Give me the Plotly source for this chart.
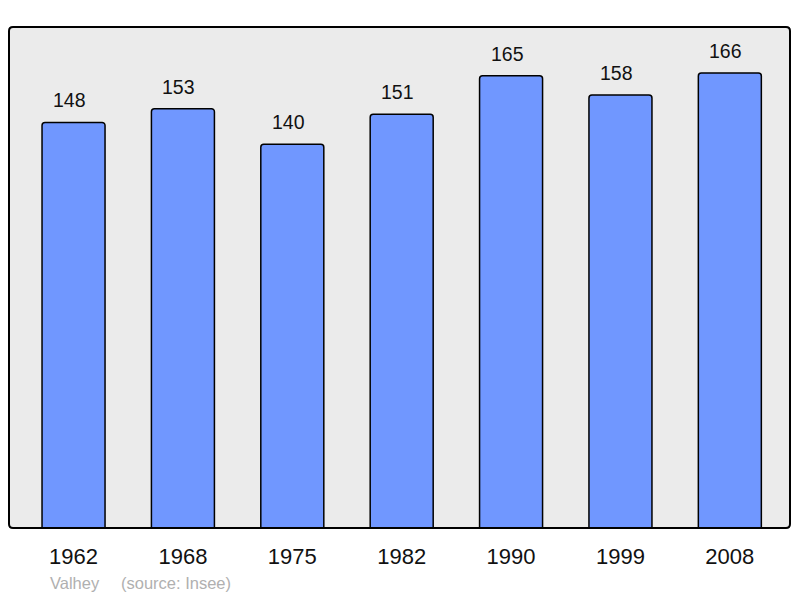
import plotly.graph_objects as go

years = ["1962", "1968", "1975", "1982", "1990", "1999", "2008"]
population = [148, 153, 140, 151, 165, 158, 166]
commune = "Valhey"
source = "(source: Insee)"

xs = list(range(len(years)))

# page body has 8px default margin; figure sized to fit in the 800x598 window
FW, FH = 792, 590
ML, MR, MT, MB = 1, 10, 19, 70
W, H = FW - ML - MR, FH - MT - MB

FONT = "Liberation Sans, Arial, sans-serif"

fig = go.Figure()
fig.add_trace(go.Bar(
    x=xs, y=population, width=0.576,
    marker=dict(color="#7097ff", line=dict(color="#000000", width=1.5), cornerradius=3),
    hoverinfo="skip",
))

for x, v in zip(xs, population):
    fig.add_annotation(x=x, y=v, text=str(v), showarrow=False, yanchor="bottom",
                       yshift=9, xshift=-4,
                       font=dict(size=19.5, color="#111111", family=FONT))

for txt, px in ((commune, 48), (source, 119)):
    fig.add_annotation(xref="paper", yref="paper", x=(px - 9) / W, y=-(583 - 528) / H,
                       xanchor="left", yanchor="middle", showarrow=False, text=txt,
                       font=dict(size=16.5, color="#b0b0b0", family=FONT))

# rounded frame
rx, ry = 4 / W, 4 / H
path = (f"M {rx},0 L {1-rx},0 Q 1,0 1,{ry} L 1,{1-ry} Q 1,1 {1-rx},1 "
        f"L {rx},1 Q 0,1 0,{1-ry} L 0,{ry} Q 0,0 {rx},0 Z")
fig.add_shape(type="path", xref="paper", yref="paper", path=path,
              line=dict(color="#000000", width=2), layer="above")

fig.update_layout(
    width=FW, height=FH,
    margin=dict(l=ML, r=MR, t=MT, b=MB, pad=0),
    paper_bgcolor="#ffffff", plot_bgcolor="#ebebeb",
    showlegend=False,
    font=dict(family=FONT),
    xaxis=dict(range=[-0.59, 6.55], tickvals=xs, ticktext=years, showgrid=False,
               zeroline=False, ticks="", ticklabelstandoff=13,
               tickfont=dict(size=22, color="#111111")),
    yaxis=dict(range=[0, 182.8], visible=False, showgrid=False, zeroline=False),
)

fig.write_html("out.html")
